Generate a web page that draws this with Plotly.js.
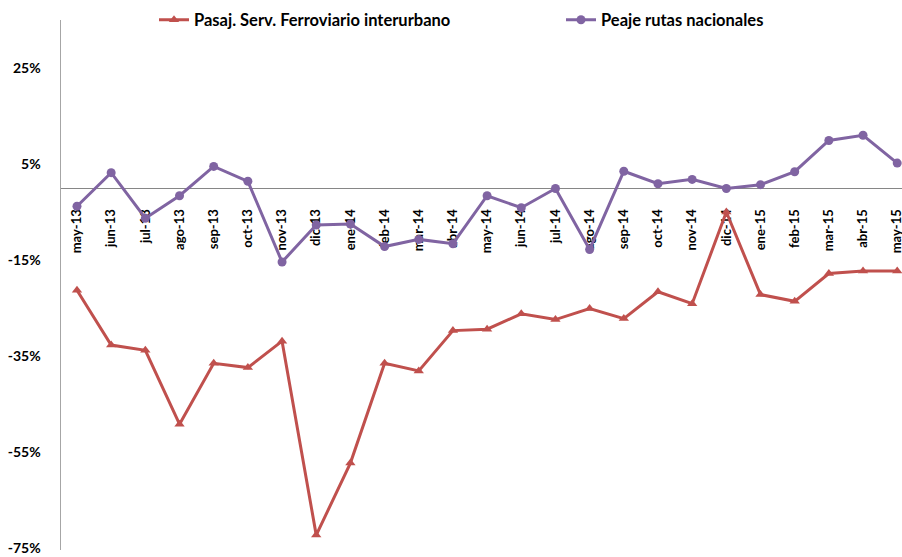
<!DOCTYPE html>
<html>
<head>
<meta charset="utf-8">
<script src="https://cdn.plot.ly/plotly-3.0.1.min.js"></script>
<style>html,body{margin:0;padding:0;background:#fff;overflow:hidden;}</style>
</head>
<body>
<div id="chart" style="width:902px;height:557px;"></div>
<script>
const categories = ["may-13","jun-13","jul-13","ago-13","sep-13","oct-13","nov-13","dic-13","ene-14","feb-14","mar-14","abr-14","may-14","jun-14","jul-14","ago-14","sep-14","oct-14","nov-14","dic-14","ene-15","feb-15","mar-15","abr-15","may-15"];
const ferroviario = [-21.3,-32.7,-33.8,-49.2,-36.5,-37.4,-31.9,-72.3,-57.3,-36.5,-38.1,-29.7,-29.4,-26.2,-27.4,-25.1,-27.2,-21.6,-24.1,-5.0,-22.2,-23.6,-17.8,-17.3,-17.3];
const peaje = [-3.8,3.2,-6.3,-1.6,4.5,1.4,-15.4,-7.7,-7.5,-12.2,-10.7,-11.6,-1.6,-4.1,-0.1,-12.8,3.5,0.9,1.8,-0.1,0.7,3.4,9.9,11.0,5.2];
const yTicks = [25,5,-15,-35,-55,-75];
const yTickText = ["25%","5%","-15%","-35%","-55%","-75%"];
const seriesNames = ["Pasaj. Serv. Ferroviario interurbano","Peaje rutas nacionales"];

const FONT = "Lato, 'Open Sans', sans-serif";
const traces = [
  {x: categories, y: ferroviario, name: seriesNames[0], type: "scatter", mode: "lines+markers",
   line: {color: "#C0504D", width: 3}, marker: {symbol: "triangle-up", size: 9, color: "#C0504D"},
   legend: "legend"},
  {x: categories, y: peaje, name: seriesNames[1], type: "scatter", mode: "lines+markers",
   line: {color: "#8064A2", width: 3}, marker: {symbol: "circle", size: 9, color: "#8064A2"},
   legend: "legend2"}
];
const W = 902, ML = 61;
const pw = W - ML;
const yMin = -75.4, yMax = 35;
const layout = {
  width: 902, height: 557,
  margin: {l: ML, r: 0, t: 20, b: 7, autoexpand: false},
  paper_bgcolor: "#fff", plot_bgcolor: "#fff",
  font: {family: FONT, color: "#000"},
  xaxis: {
    type: "category", range: [-0.468, 24.14],
    anchor: "free", position: (0 - yMin)/(yMax - yMin),
    showline: true, linecolor: "#868686", linewidth: 1,
    showgrid: false, zeroline: false, ticks: "",
    tickangle: -90, ticklabelstandoff: 15,
    tickfont: {family: FONT, size: 13, color: "#000", weight: "bold"},
    layer: "below traces"
  },
  yaxis: {
    range: [yMin, yMax], tickvals: yTicks, ticktext: yTickText,
    showline: true, linecolor: "#A6A6A6", linewidth: 1.5,
    showgrid: false, zeroline: false, ticks: "", ticklabelstandoff: 16,
    tickfont: {family: FONT, size: 14, color: "#000", weight: "bold"}
  },
  showlegend: true,
  legend: {x: (154 - ML)/pw, xanchor: "left", y: 1, yanchor: "middle", orientation: "h",
           font: {family: FONT, size: 16.5, color: "#000", weight: "bold"}, bgcolor: "rgba(0,0,0,0)"},
  legend2: {x: (561 - ML)/pw, xanchor: "left", y: 1, yanchor: "middle", orientation: "h",
           font: {family: FONT, size: 16.5, color: "#000", weight: "bold"}, bgcolor: "rgba(0,0,0,0)"}
};
Plotly.newPlot("chart", traces, layout, {displayModeBar: false, staticPlot: true});
</script>
</body>
</html>
